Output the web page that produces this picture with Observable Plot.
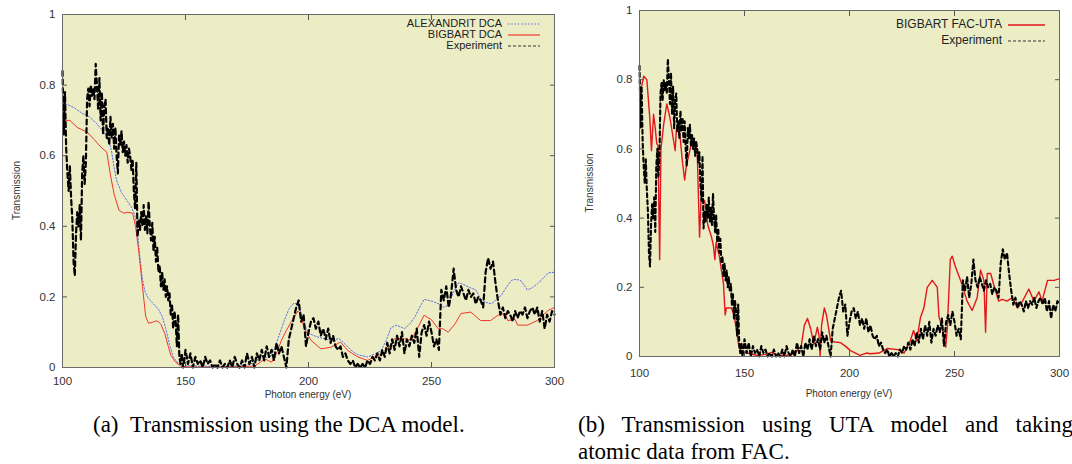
<!DOCTYPE html>
<html>
<head>
<meta charset="utf-8">
<script src="https://cdn.jsdelivr.net/npm/d3@7"></script>
<script src="https://cdn.jsdelivr.net/npm/@observablehq/plot@0.6"></script>
<style>
  html, body { margin: 0; padding: 0; background: #fff; }
  body { width: 1072px; height: 464px; overflow: hidden; position: relative; font-family: "Liberation Sans", Arial, sans-serif; }
  .panel { position: absolute; top: 0; height: 400px; overflow: hidden; }
  #panelA { left: 0; width: 566px; }
  #panelB { left: 570px; width: 502px; }
  .cap { position: absolute; font-family: "Liberation Serif", "Times New Roman", serif; font-size: 23px; color: #000; white-space: nowrap; line-height: 26px; }
  #capA { left: 93px; top: 412px; }
  #capB1 { left: 578px; top: 412px; width: 495px; white-space: normal; text-align: justify; text-align-last: justify; }
  #capB2 { left: 578px; top: 439px; }
</style>
</head>
<body>
<div id="panelA" class="panel"></div>
<div id="panelB" class="panel"></div>
<div id="capA" class="cap">(a)&nbsp;&nbsp;Transmission using the DCA model.</div>
<div id="capB1" class="cap">(b) Transmission using UTA model and taking</div>
<div id="capB2" class="cap">atomic data from FAC.</div>
<script>
// ---------- axis ticks ----------
const xTicks = [100, 150, 200, 250, 300];
const yTicks = [0, 0.2, 0.4, 0.6, 0.8, 1];
const yTickLabels = ["0", "0.2", "0.4", "0.6", "0.8", "1"];
const xTickLabels = ["100", "150", "200", "250", "300"];

// ---------- Experiment (same measurement in both panels) ----------
const expEnergy = [
  100, 100.5, 101, 101.5, 102, 102.5, 103, 103.5, 104, 104.5,
  105, 105.5, 106, 106.5, 107, 107.5, 108, 108.5, 109, 109.5,
  110, 110.5, 111, 111.5, 112, 112.5, 113, 113.5, 114, 114.5,
  115, 115.5, 116, 116.5, 117, 117.5, 118, 118.5, 119, 119.5,
  120, 120.5, 121, 121.5, 122, 122.5, 123, 123.5, 124, 124.5,
  125, 125.5, 126, 126.5, 127, 127.5, 128, 128.5, 129, 129.5,
  130, 130.5, 131, 131.5, 132, 132.5, 133, 133.5, 134, 134.5,
  135, 135.5, 136, 136.5, 137, 137.5, 138, 138.5, 139, 139.5,
  140, 140.5, 141, 141.5, 142, 142.5, 143, 143.5, 144, 144.5,
  145, 145.5, 146, 146.5, 147, 147.5, 148, 148.5, 149, 149.5,
  150, 151, 152, 153, 154, 155, 156, 157, 158, 159,
  160, 161, 162, 163, 164, 165, 166, 167, 168, 169,
  170, 171, 172, 173, 174, 175, 176, 177, 178, 179,
  180, 181, 182, 183, 184, 185, 186, 187, 188, 189,
  190, 191, 192, 193, 194, 195, 196, 197, 198, 199,
  200, 201, 202, 203, 204, 205, 206, 207, 208, 209,
  210, 211, 212, 213, 214, 215, 216, 217, 218, 219,
  220, 221, 222, 223, 224, 225, 226, 227, 228, 229,
  230, 231, 232, 233, 234, 235, 236, 237, 238, 239,
  240, 241, 242, 243, 244, 245, 246, 247, 248, 249,
  250, 251, 252, 253, 254, 255, 256, 257, 258, 259,
  260, 261, 262, 263, 264, 265, 266, 267, 268, 269,
  270, 271, 272, 273, 274, 275, 276, 277, 278, 279,
  280, 281, 282, 283, 284, 285, 286, 287, 288, 289,
  290, 291, 292, 293, 294, 295, 296, 297, 298, 299, 300
];
const expTrans = [
  0.84, 0.66, 0.78, 0.62, 0.55, 0.50, 0.57, 0.48, 0.42, 0.30,
  0.26, 0.38, 0.44, 0.40, 0.46, 0.36, 0.55, 0.60, 0.52, 0.58,
  0.76, 0.79, 0.74, 0.80, 0.77, 0.79, 0.76, 0.86, 0.80, 0.73,
  0.82, 0.70, 0.78, 0.66, 0.74, 0.76, 0.65, 0.68, 0.63, 0.71,
  0.65, 0.69, 0.62, 0.68, 0.60, 0.55, 0.66, 0.63, 0.67, 0.61,
  0.64, 0.60, 0.63, 0.58, 0.62, 0.60, 0.56, 0.59, 0.50, 0.45,
  0.58, 0.37, 0.42, 0.39, 0.44, 0.40, 0.46, 0.39, 0.43, 0.38,
  0.47, 0.40, 0.36, 0.41, 0.33, 0.37, 0.30, 0.34, 0.27, 0.29,
  0.23, 0.27, 0.22, 0.25, 0.20, 0.23, 0.19, 0.21, 0.15, 0.18,
  0.11, 0.16, 0.13, 0.06, 0.15, 0.03, 0.01, 0.04, 0.00, 0.02,
  0.05, 0.01, 0.04, 0.00, 0.03, 0.01, 0.02, 0.00, 0.03, 0.01,
  0.02, 0.00, 0.01, 0.00, 0.02, 0.00, 0.01, 0.00, 0.02, 0.00,
  0.03, 0.01, 0.00, 0.02, 0.00, 0.04, 0.01, 0.03, 0.00, 0.04,
  0.02, 0.05, 0.02, 0.06, 0.03, 0.05, 0.02, 0.07, 0.04, 0.06,
  0.03, 0.00, 0.08, 0.11, 0.14, 0.17, 0.19, 0.13, 0.15, 0.06,
  0.10, 0.13, 0.14, 0.11, 0.13, 0.09, 0.11, 0.08, 0.11, 0.07,
  0.09, 0.06, 0.05, 0.06, 0.03, 0.04, 0.02, 0.01, 0.02, 0.00,
  0.01, 0.00, 0.01, 0.00, 0.02, 0.01, 0.03, 0.02, 0.04, 0.02,
  0.05, 0.03, 0.07, 0.04, 0.08, 0.05, 0.09, 0.06, 0.10, 0.04,
  0.08, 0.06, 0.09, 0.07, 0.11, 0.03, 0.10, 0.12, 0.09, 0.13,
  0.10, 0.06, 0.08, 0.05, 0.22, 0.19, 0.23, 0.17, 0.21, 0.28,
  0.22, 0.20, 0.23, 0.21, 0.19, 0.22, 0.20, 0.21, 0.18, 0.20,
  0.19, 0.17, 0.27, 0.31, 0.28, 0.30, 0.24, 0.19, 0.15, 0.17,
  0.14, 0.16, 0.15, 0.13, 0.16, 0.14, 0.16, 0.15, 0.17, 0.14,
  0.16, 0.17, 0.15, 0.17, 0.13, 0.16, 0.11, 0.15, 0.13, 0.16, 0.15
];

// ---------- Panel (a): ALEXANDRIT DCA ----------
const alexEnergy = [100, 102, 105, 108, 111, 114, 117, 119, 120, 121, 122, 124, 126, 128, 129.5, 130.5, 131.5, 132.5, 133.5, 135, 137, 139, 140.5, 142, 143.5, 145, 147, 150, 160, 170, 176, 179, 181, 183, 184.5, 186, 188, 190, 192, 194, 195.5, 197, 198.5, 200, 203, 206, 209, 212.5, 215, 218, 220, 224, 227, 229.5, 231.5, 233.5, 235.5, 237.5, 239, 241, 243, 245, 247, 249, 251, 253, 255, 257, 259, 261, 263, 265, 268, 270, 272, 274.3, 276, 278.4, 280.5, 282.5, 284.5, 286.5, 289, 291, 293, 295, 297.5, 300];
const alexTrans = [0.75, 0.745, 0.735, 0.72, 0.71, 0.69, 0.665, 0.64, 0.61, 0.565, 0.53, 0.495, 0.475, 0.455, 0.43, 0.38, 0.31, 0.25, 0.215, 0.195, 0.18, 0.165, 0.145, 0.11, 0.065, 0.03, 0.012, 0.005, 0.003, 0.004, 0.008, 0.02, 0.032, 0.028, 0.03, 0.05, 0.09, 0.13, 0.165, 0.182, 0.18, 0.155, 0.12, 0.097, 0.088, 0.082, 0.077, 0.082, 0.065, 0.045, 0.036, 0.03, 0.038, 0.048, 0.075, 0.112, 0.12, 0.115, 0.11, 0.122, 0.14, 0.168, 0.193, 0.19, 0.186, 0.18, 0.17, 0.178, 0.215, 0.24, 0.235, 0.228, 0.22, 0.195, 0.185, 0.18, 0.19, 0.205, 0.228, 0.247, 0.25, 0.245, 0.22, 0.226, 0.237, 0.25, 0.268, 0.27];

// ---------- Panel (a): BIGBART DCA ----------
const dcaEnergy = [100, 103, 106, 110, 113, 115.5, 118, 119.5, 121, 123, 125, 126.5, 128.5, 129.7, 131, 132.5, 133.8, 135, 136.5, 138, 139, 140, 141.6, 143, 144, 146, 148, 150, 160, 170, 178, 180.5, 182, 183.5, 185, 187, 189, 191, 193, 195.7, 197, 198, 201, 205, 209, 213, 216, 220, 224, 228, 231, 235, 239, 241.8, 244.5, 247, 250, 252.7, 254.5, 256.8, 259.6, 262, 266, 270, 274, 277, 280, 281, 284, 285, 289, 293, 297.5, 300];
const dcaTrans = [0.70, 0.70, 0.68, 0.667, 0.645, 0.625, 0.61, 0.545, 0.49, 0.445, 0.437, 0.44, 0.437, 0.40, 0.33, 0.23, 0.145, 0.125, 0.128, 0.132, 0.13, 0.122, 0.096, 0.06, 0.035, 0.015, 0.004, 0.002, 0.001, 0.002, 0.004, 0.015, 0.025, 0.02, 0.015, 0.04, 0.077, 0.105, 0.13, 0.16, 0.15, 0.115, 0.077, 0.053, 0.057, 0.072, 0.048, 0.03, 0.02, 0.034, 0.04, 0.082, 0.082, 0.077, 0.114, 0.148, 0.135, 0.11, 0.11, 0.10, 0.124, 0.153, 0.157, 0.133, 0.133, 0.148, 0.153, 0.133, 0.136, 0.12, 0.12, 0.133, 0.162, 0.17];

// ---------- Panel (b): BIGBART FAC-UTA ----------
const facEnergy = [100, 101, 102, 103.5, 104.9, 105.7, 106.7, 107.5, 108.2, 108.8, 109.6, 110.2, 111.5, 113, 114.5, 116.2, 117, 117.6, 119, 120.5, 121.5, 122.3, 124.7, 126.2, 127.5, 128.6, 129.3, 131, 132.5, 134.3, 135.2, 135.9, 136.5, 138, 140, 140.8, 141.4, 143.8, 145.2, 147, 148.5, 150, 153, 156, 160, 163, 166, 170, 174, 177, 178.5, 180, 181.5, 183, 184.7, 185.5, 186, 186.7, 188, 189, 191, 193, 195.7, 198, 200.5, 205, 208, 210, 214, 218, 223, 226, 229, 230.5, 232, 233.8, 235.4, 237, 239.4, 241.8, 242.6, 244.2, 245.8, 246.6, 248, 248.9, 250.4, 252.9, 256, 258.4, 260.8, 262.4, 264, 264.8, 265.6, 267.2, 269.5, 271, 272.7, 275, 277.6, 280, 282.4, 285.4, 287.8, 290.2, 291.7, 294.3, 297.5, 300];
const facTrans = [0.74, 0.78, 0.81, 0.80, 0.69, 0.595, 0.70, 0.66, 0.615, 0.61, 0.28, 0.60, 0.67, 0.73, 0.69, 0.625, 0.595, 0.66, 0.655, 0.56, 0.51, 0.55, 0.615, 0.615, 0.59, 0.345, 0.45, 0.45, 0.38, 0.345, 0.32, 0.28, 0.33, 0.29, 0.21, 0.12, 0.14, 0.14, 0.115, 0.04, 0.01, 0.012, 0.008, 0.003, 0.006, 0.012, 0.004, 0.003, 0.01, 0.03, 0.09, 0.11, 0.08, 0.037, 0.085, 0.06, 0.0, 0.09, 0.14, 0.12, 0.046, 0.042, 0.04, 0.03, 0.017, 0.003, 0.01, 0.008, 0.01, 0.023, 0.02, 0.01, 0.046, 0.075, 0.046, 0.113, 0.14, 0.20, 0.22, 0.20, 0.115, 0.085, 0.027, 0.085, 0.28, 0.29, 0.26, 0.22, 0.16, 0.133, 0.17, 0.25, 0.22, 0.07, 0.24, 0.24, 0.19, 0.16, 0.165, 0.16, 0.17, 0.14, 0.16, 0.195, 0.16, 0.187, 0.16, 0.22, 0.22, 0.225];

// ---------- styling ----------
const BG = "#ecedc5";
const FONT = "'Liberation Sans', Arial, Helvetica, sans-serif";
const zip = (es, ts) => es.map((e, i) => ({e, t: ts[i]}));

function makePanel(cfg) {
  const {width, height, ml, mr, mt, mb, xPad, yPad, lines, legend, fontSize, xTitleY, yTitleX} = cfg;
  const chart = Plot.plot({
    width, height,
    marginLeft: ml, marginRight: mr, marginTop: mt, marginBottom: mb,
    x: {domain: [100, 300]},
    y: {domain: [0, 1]},
    style: {fontFamily: FONT, fontSize: fontSize + "px", color: "#333", background: "transparent", overflow: "visible"},
    marks: [
      Plot.frame({fill: BG, stroke: "none"}),
      ...lines.map(l => Plot.line(zip(l.e, l.t), {x: "e", y: "t", stroke: l.color, strokeWidth: l.width, strokeDasharray: l.dash || null, strokeLinejoin: "round"})),
      Plot.axisX({ticks: xTicks, tickSize: 0, tickPadding: xPad, label: null, tickFormat: d => xTickLabels[xTicks.indexOf(d)]}),
      Plot.axisX({ticks: xTicks, tickSize: -5, fill: "none", stroke: "#555", label: null}),
      Plot.axisX({anchor: "top", ticks: xTicks, tickSize: -5, fill: "none", stroke: "#555", label: null}),
      Plot.axisY({ticks: yTicks, tickSize: 0, tickPadding: yPad, label: null, tickFormat: d => yTickLabels[yTicks.indexOf(d)]}),
      Plot.axisY({ticks: yTicks, tickSize: -5, fill: "none", stroke: "#555", label: null}),
      Plot.axisY({anchor: "right", ticks: yTicks, tickSize: -5, fill: "none", stroke: "#555", label: null}),
      Plot.frame({stroke: "#6a6a6a", strokeWidth: 1})
    ]
  });
  const svg = d3.select(chart);
  // axis titles
  svg.append("text")
    .attr("x", (ml + width - mr) / 2).attr("y", xTitleY)
    .attr("text-anchor", "middle").attr("dominant-baseline", "middle")
    .attr("font-size", 10).attr("fill", "#333").text("Photon energy (eV)");
  svg.append("text")
    .attr("transform", `translate(${yTitleX},${(mt + height - mb) / 2}) rotate(-90)`)
    .attr("text-anchor", "middle").attr("dominant-baseline", "middle")
    .attr("font-size", 10).attr("fill", "#333").text("Transmission");
  // legend (key inside top-right of the frame)
  legend.items.forEach((it, i) => {
    const y = legend.y0 + i * legend.dy;
    svg.append("text").attr("x", legend.textX).attr("y", y)
      .attr("text-anchor", "end").attr("dominant-baseline", "middle")
      .attr("font-size", legend.fontSize).attr("fill", "#222").text(it.label);
    svg.append("line").attr("x1", legend.x1).attr("x2", legend.x2).attr("y1", y).attr("y2", y)
      .attr("stroke", it.color).attr("stroke-width", it.width)
      .attr("stroke-dasharray", it.dash || null);
  });
  return chart;
}

const panelA = makePanel({
  width: 566, height: 400, ml: 62, mr: 12, mt: 14, mb: 33, xPad: 9, yPad: 7, fontSize: 11.5,
  xTitleY: 395, yTitleX: 17,
  lines: [
    {e: alexEnergy, t: alexTrans, color: "#5b6ee8", width: 1, dash: "1.5,1.8"},
    {e: dcaEnergy, t: dcaTrans, color: "#f2362c", width: 1},
    {e: expEnergy, t: expTrans, color: "#000", width: 2.2, dash: "5,3.5"}
  ],
  legend: {
    textX: 502, x1: 508, x2: 540, y0: 24, dy: 11, fontSize: 11,
    items: [
      {label: "ALEXANDRIT DCA", color: "#5b6ee8", width: 1, dash: "1.5,1.8"},
      {label: "BIGBART DCA", color: "#f2362c", width: 1.2},
      {label: "Experiment", color: "#333", width: 1, dash: "3,2"}
    ]
  }
});
document.getElementById("panelA").appendChild(panelA);

const panelB = makePanel({
  width: 502, height: 400, ml: 69, mr: 13, mt: 10, mb: 44, xPad: 12, yPad: 7, fontSize: 11.5,
  xTitleY: 394, yTitleX: 20,
  lines: [
    {e: facEnergy, t: facTrans, color: "#e3161c", width: 1.4},
    {e: expEnergy, t: expTrans, color: "#000", width: 2.1, dash: "4,3"}
  ],
  legend: {
    textX: 432, x1: 438, x2: 475, y0: 25, dy: 16, fontSize: 12,
    items: [
      {label: "BIGBART FAC-UTA", color: "#e3161c", width: 1.5},
      {label: "Experiment", color: "#333", width: 1, dash: "3,2"}
    ]
  }
});
document.getElementById("panelB").appendChild(panelB);
</script>
</body>
</html>
